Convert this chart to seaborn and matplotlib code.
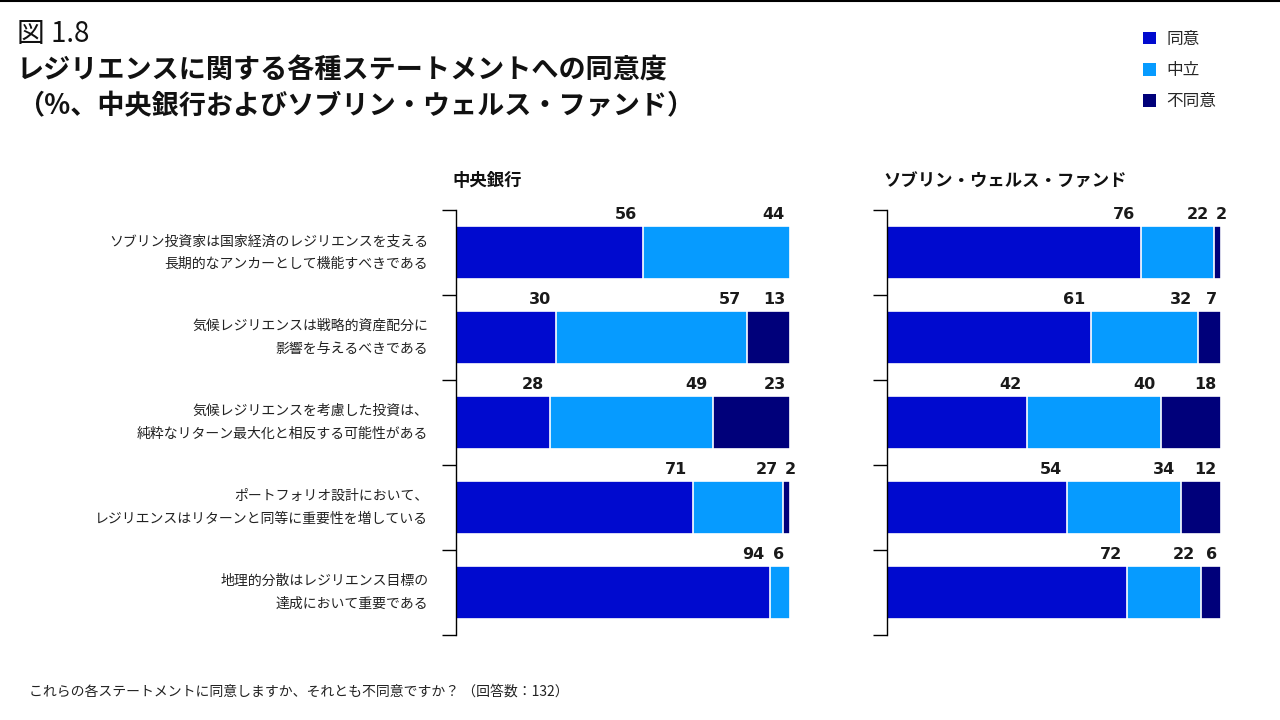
import numpy as np
import pandas as pd
import matplotlib
matplotlib.use("Agg")
import matplotlib.pyplot as plt
import seaborn as sns
from matplotlib.patches import Patch
from matplotlib.lines import Line2D

# data
statements = [
    "ソブリン投資家は国家経済のレジリエンスを支える\n長期的なアンカーとして機能すべきである",
    "気候レジリエンスは戦略的資産配分に\n影響を与えるべきである",
    "気候レジリエンスを考慮した投資は、\n純粋なリターン最大化と相反する可能性がある",
    "ポートフォリオ設計において、\nレジリエンスはリターンと同等に重要性を増している",
    "地理的分散はレジリエンス目標の\n達成において重要である",
]
cb_agree = [56, 30, 28, 71, 94]
cb_neutral = [44, 57, 49, 27, 6]
cb_disagree = [0, 13, 23, 2, 0]
swf_agree = [76, 61, 42, 54, 72]
swf_neutral = [22, 32, 40, 34, 22]
swf_disagree = [2, 7, 18, 12, 6]

series_names = ["同意", "中立", "不同意"]
colors = ["#000ACF", "#069BFF", "#00007A"]

sns.set_theme(style="white")
plt.rcParams["font.family"] = ["Noto Sans CJK JP", "DejaVu Sans"]

fig = plt.figure(figsize=(12.8, 7.2), dpi=100)
ax_cb = fig.add_axes([0.35625, 0.1181, 0.2609, 0.5902])
ax_swf = fig.add_axes([0.6930, 0.1181, 0.2609, 0.5902])


def draw_panel(ax, agree, neutral, disagree, title, show_labels):
    df = pd.DataFrame({"stmt": statements, "agree": agree,
                       "neutral": neutral, "disagree": disagree})
    df["c1"] = df["agree"]
    df["c2"] = df["agree"] + df["neutral"]
    df["c3"] = df["c2"] + df["disagree"]
    # draw cumulative layers, widest first
    for col, color in zip(["c3", "c2", "c1"], colors[::-1]):
        sns.barplot(data=df, x=col, y="stmt", orient="h", color=color,
                    width=0.62, edgecolor="white", linewidth=1.2,
                    saturation=1, ax=ax)
    # value labels at segment ends
    lab = dict(va="bottom", fontsize=11.5, fontweight="bold",
               family="DejaVu Sans", color="#1a1a1a", textcoords="offset points")
    for i, row in df.iterrows():
        y = i - 0.31
        ax.annotate(f"{row['agree']}", xy=(row["c1"], y), xytext=(-4, 3), ha="right", **lab)
        ax.annotate(f"{row['neutral']}", xy=(row["c2"], y), xytext=(-4, 3), ha="right", **lab)
        if row["disagree"] > 0:
            if row["disagree"] < 5:
                ax.annotate(f"{row['disagree']}", xy=(row["c2"], y), xytext=(1, 3),
                            ha="left", **lab)
            else:
                ax.annotate(f"{row['disagree']}", xy=(row["c3"], y), xytext=(-3, 3),
                            ha="right", **lab)
    ax.set_xlim(0, 100)
    ax.set_ylim(4.5, -0.5)
    ax.set_xlabel("")
    ax.set_ylabel("")
    ax.set_xticks([])
    ax.set_yticks(np.arange(-0.5, 5, 1))
    ax.set_yticklabels([])
    ax.tick_params(axis="y", which="major", length=10, width=1, color="black", left=True)
    ax.set_yticks(range(5), minor=True)
    if show_labels:
        ax.set_yticklabels(statements, minor=True, fontsize=10, linespacing=1.8,
                           color="#222222")
        for t in ax.get_yticklabels(minor=True):
            t.set_va("center")
    ax.tick_params(axis="y", which="minor", length=0, pad=20)
    for s in ["top", "right", "bottom"]:
        ax.spines[s].set_visible(False)
    ax.spines["left"].set_color("black")
    ax.spines["left"].set_linewidth(1)
    ax.set_title(title, loc="left", x=-0.01, y=1.0, pad=17, fontsize=12.5,
                 fontweight="bold", color="#111111")


draw_panel(ax_cb, cb_agree, cb_neutral, cb_disagree, "中央銀行", True)
draw_panel(ax_swf, swf_agree, swf_neutral, swf_disagree, "ソブリン・ウェルス・ファンド", False)

# titles
fig.text(0.013, 0.953, "図 1.8", fontsize=20, va="center", ha="left", color="#111111")
fig.text(0.013, 0.902, "レジリエンスに関する各種ステートメントへの同意度", fontsize=19.5,
         fontweight="bold", va="center", ha="left", color="#111111")
fig.text(0.013, 0.852, "（%、中央銀行およびソブリン・ウェルス・ファンド）", fontsize=19.5,
         fontweight="bold", va="center", ha="left", color="#111111")

# footnote
fig.text(0.023, 0.039, "これらの各ステートメントに同意しますか、それとも不同意ですか？ （回答数：132）",
         fontsize=10, va="center", ha="left", color="#222222")

# legend
handles = [Patch(facecolor=c, edgecolor="none") for c in colors]
fig.legend(handles, series_names, loc="upper left", bbox_to_anchor=(0.881, 0.978),
           frameon=False, fontsize=12, handlelength=0.8, handleheight=0.8,
           handletextpad=0.6, labelspacing=0.85)

# top rule
fig.add_artist(Line2D([0, 1], [0.999, 0.999], color="black", linewidth=1.5,
                      transform=fig.transFigure))

fig.savefig("out.png", dpi=100)
plt.close(fig)
